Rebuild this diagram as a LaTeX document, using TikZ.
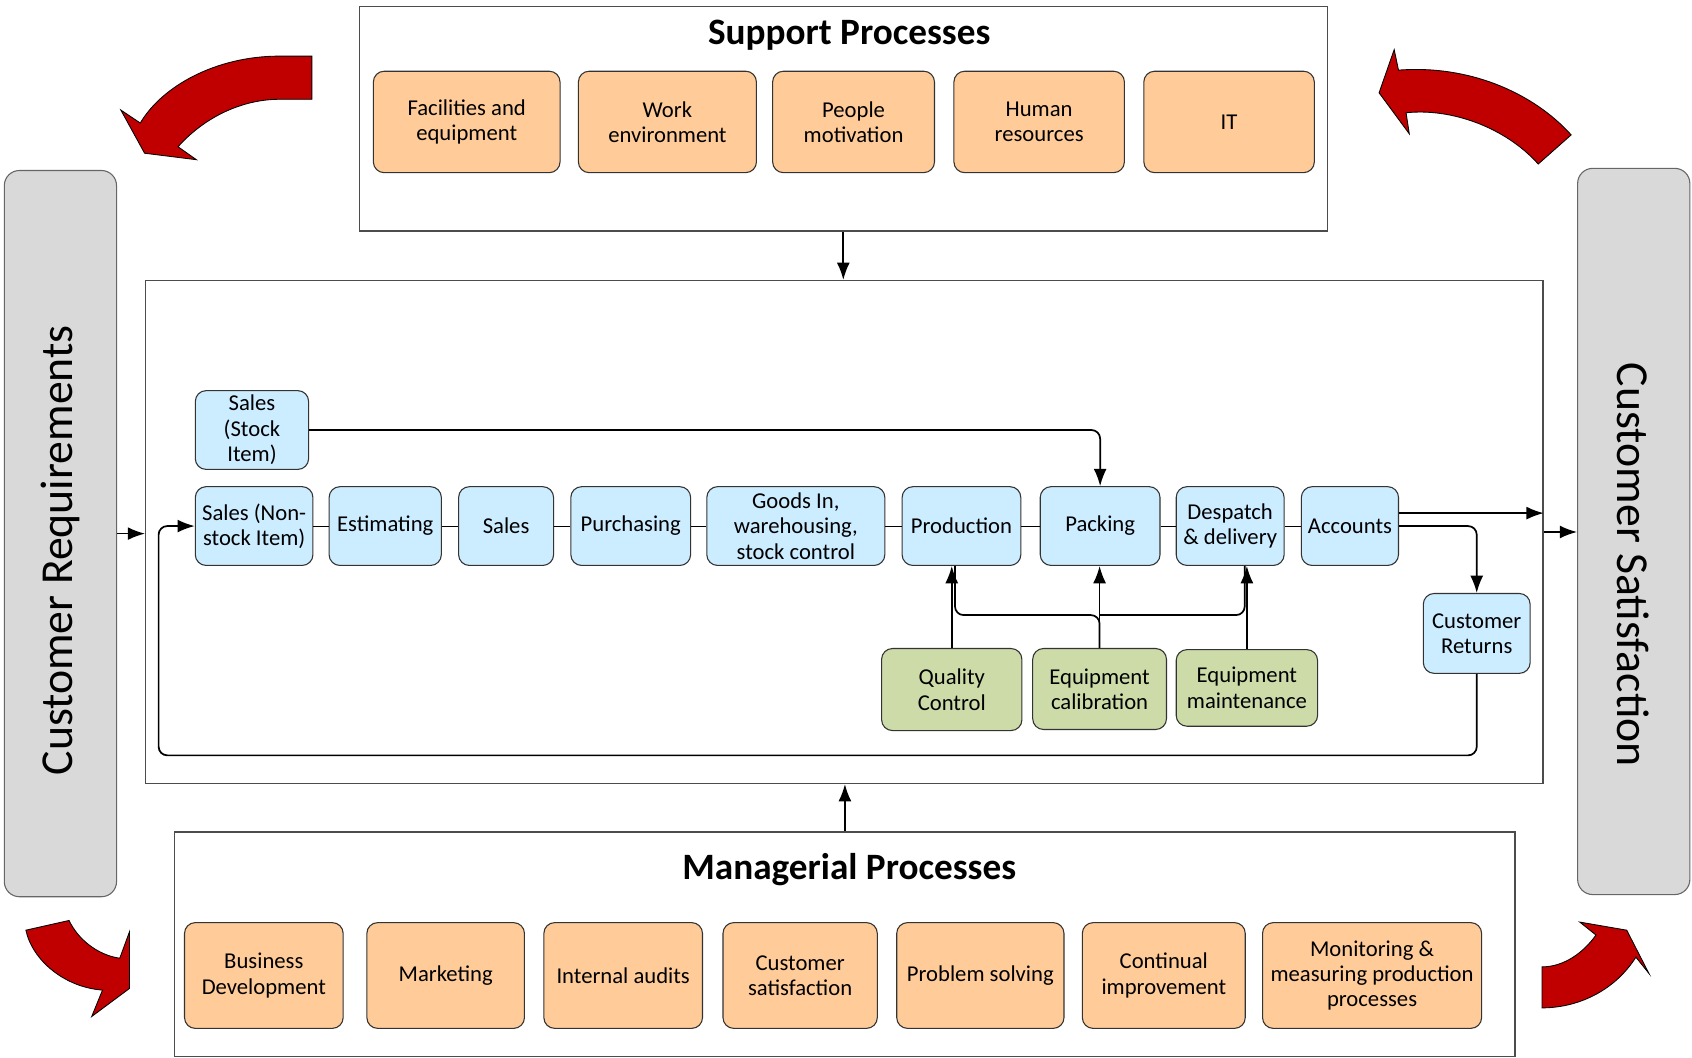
\documentclass[tikz,border=0pt]{standalone}
\usepackage{fontspec}
\setmainfont{Carlito}
\usetikzlibrary{arrows.meta}
\definecolor{peach}{HTML}{FFCC99}
\definecolor{skyblue}{HTML}{CCECFF}
\definecolor{sagegreen}{HTML}{CDDBA9}
\definecolor{bargrey}{HTML}{D9D9D9}
\definecolor{darkred}{HTML}{C00000}
\begin{document}
\begin{tikzpicture}[x=1pt,y=-1pt,
		every node/.style={font=\fontsize{21}{23.5}\selectfont, align=center, inner sep=2pt},
		frame/.style={draw=black!70, line width=1.2pt},
		supbox/.style={draw=black!80, fill=peach, rounded corners=10pt, line width=1pt, minimum height=94pt},
		mgtbox/.style={draw=black!80, fill=peach, rounded corners=10pt, line width=1pt, minimum height=98pt},
		proc/.style={draw=black!80, fill=skyblue, rounded corners=10pt, line width=1pt, minimum height=73pt},
		qual/.style={draw=black!80, fill=sagegreen, rounded corners=10pt, line width=1pt},
		bar/.style={draw=black!60, fill=bargrey, rounded corners=14pt, line width=1pt, minimum width=104pt, minimum height=673pt},
		title/.style={font=\fontsize{34.5}{40}\selectfont\bfseries},
		side/.style={font=\fontsize{42.4}{48}\selectfont},
		conn/.style={line width=1.6pt},
		arr/.style={conn, -{Latex[length=16pt,width=12pt]}},
		curvedarrow/.style={fill=darkred, draw=black, line width=0.8pt}
		]
		\useasboundingbox (0,0) rectangle (1568,980);

		\node[frame, minimum width=897pt, minimum height=208pt] (sup) at (781.5,110) {};
		\node[frame, minimum width=1295pt, minimum height=466pt] (core) at (782.5,493) {};
		\node[frame, minimum width=1242pt, minimum height=208pt] (mgr) at (783,875) {};
		\node[bar] (req) at (56,494.5) {};
		\node[bar] (sat) at (1514,492.5) {};
		\node[side, rotate=90] (reqtext) at (56,510) {Customer Requirements};
		\node[side, rotate=-90] (sattext) at (1513,523.5) {Customer Satisfaction};

		\node[title] (suptitle) at (787,33) {Support Processes};
		\node[supbox, minimum width=173pt] (fac) at (432.5,113) {Facilities and\\equipment};
		\node[supbox, minimum width=165pt] (work) at (618.5,113) {Work\\environment};
		\node[supbox, minimum width=150pt] (ppl) at (791,113) {People\\motivation};
		\node[supbox, minimum width=158pt] (hum) at (963,113) {Human\\resources};
		\node[supbox, minimum width=158pt] (it) at (1139,113) {IT};

		\node[title] (mgrtitle) at (787,806) {Managerial Processes};
		\node[mgtbox, minimum width=147pt] (bus) at (244.5,904) {Business\\Development};
		\node[mgtbox, minimum width=146pt] (mkt) at (413,904) {Marketing};
		\node[mgtbox, minimum width=147pt] (aud) at (577.5,904) {Internal audits};
		\node[mgtbox, minimum width=143pt] (csat) at (741.5,904) {Customer\\satisfaction};
		\node[mgtbox, minimum width=155pt] (prob) at (908.5,904) {Problem solving};
		\node[mgtbox, minimum width=151pt] (cont) at (1078.5,904) {Continual\\improvement};
		\node[mgtbox, minimum width=203pt] (mon) at (1271.5,904) {Monitoring \&\\measuring production\\processes};

		\node[proc, minimum width=105pt] (sst) at (233.5,398.5) {Sales\\(Stock\\Item)};
		\node[proc, minimum width=109pt] (sns) at (235.5,487.5) {Sales (Non-\\stock Item)};
		\node[proc, minimum width=104pt] (est) at (357,487.5) {Estimating};
		\node[proc, minimum width=88pt] (sal) at (469,487.5) {Sales};
		\node[proc, minimum width=111pt] (pur) at (584.5,487.5) {Purchasing};
		\node[proc, minimum width=165pt] (gds) at (737.5,487.5) {Goods In,\\warehousing,\\stock control};
		\node[proc, minimum width=110pt] (prod) at (891,487.5) {Production};
		\node[proc, minimum width=111pt] (pack) at (1019.5,487.5) {Packing};
		\node[proc, minimum width=100pt] (desp) at (1140,487.5) {Despatch\\\& delivery};
		\node[proc, minimum width=90pt] (acc) at (1251,487.5) {Accounts};
		\node[proc, minimum width=99pt, minimum height=74pt] (ret) at (1368.5,587) {Customer\\Returns};
		\node[qual, minimum width=130pt, minimum height=76pt] (qc) at (882,639) {Quality\\Control};
		\node[qual, minimum width=124pt, minimum height=75pt] (cal) at (1019,638.5) {Equipment\\calibration};
		\node[qual, minimum width=131pt, minimum height=71pt] (mnt) at (1155.5,637.5) {Equipment\\maintenance};

		\foreach \a/\b in {sns/est, est/sal, sal/pur, pur/gds, gds/prod, prod/pack, pack/desp, desp/acc}
			\draw[line width=1pt] (\a) -- (\b);

		\draw[arr, rounded corners=8pt] (sst.east) -| (pack.north);
		\draw[arr] ([yshift=12pt]acc.east) -- ([yshift=12pt]acc.east -| core.east);
		\draw[arr, rounded corners=8pt] (acc.east) -| (ret.north);
		\coordinate (loop) at (147,700);
		\draw[arr, rounded corners=8pt] (ret.south) |- (loop) |- (sns.west);
		\draw[arr] (qc.north) -- (qc.north |- prod.south);
		\draw[arr] (cal.north) -- (cal.north |- pack.south);
		\draw[arr] (mnt.north) -- (mnt.north |- desp.south);
		\coordinate (hub) at (1019,570);
		\draw[conn, rounded corners=8pt] (cal.north) -- (hub) -| ([xshift=3pt]qc.north |- prod.south);
		\draw[conn, rounded corners=8pt] (hub) -| ([xshift=-2pt]mnt.north |- desp.south);

		\draw[arr] (sup.south) -- (sup.south |- core.north);
		\draw[arr] (mgr.north) -- (mgr.north |- core.south);
		\draw[arr] (req.east) -- (req.east -| core.west);
		\draw[arr] (core.east) -- (core.east -| sat.west);

		\draw[curvedarrow] (289,52) -- (259,52) .. controls (200,52) and (150,80) .. (130,114) -- (112,102) -- (134,142) -- (182,148) -- (165,136) .. controls (190,108) and (225,92) .. (259,92) -- (289,92) -- cycle;
		\draw[curvedarrow] (1292,46) -- (1278,86) -- (1306,124) -- (1303,104.5) .. controls (1345,100) and (1395,118) .. (1425.5,152) -- (1456,125) .. controls (1420,85) and (1360,60) .. (1296,65) -- cycle;
		\draw[curvedarrow] (24,862) -- (64,853) .. controls (72,870) and (90,885) .. (111,888) -- (120,863.5) -- (120,916) -- (85,942) -- (95,917.5) .. controls (60,915) and (30,890) .. (24,862) -- cycle;
		\draw[curvedarrow] (1429,934) -- (1429,896) .. controls (1450,896) and (1468,882) .. (1479,866.5) -- (1464,854.5) -- (1507.5,862) -- (1528,902) -- (1516,887) .. controls (1495,920) and (1460,934) .. (1429,934) -- cycle;
	\end{tikzpicture}
\end{document}
